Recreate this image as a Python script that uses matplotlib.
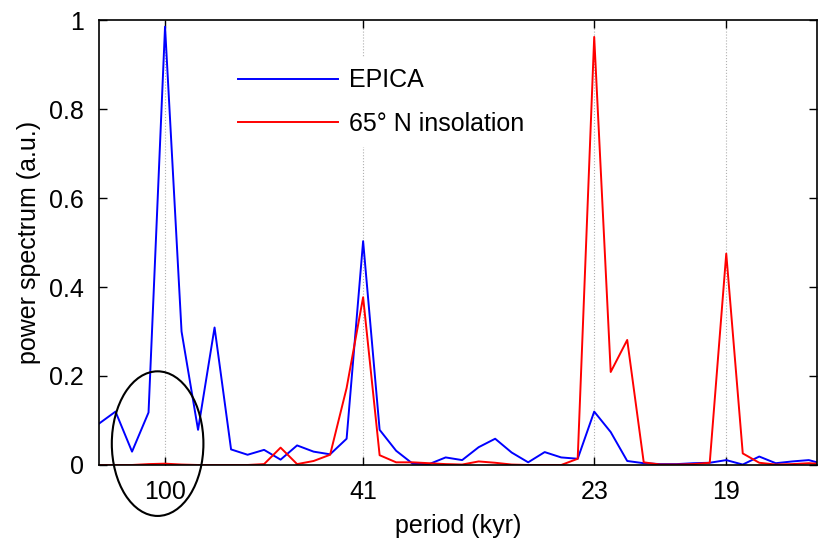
import numpy as np
import matplotlib
matplotlib.use('Agg')
import matplotlib.pyplot as plt
from matplotlib.patches import Ellipse

plt.rcParams['font.family'] = ['Liberation Sans', 'DejaVu Sans']

# normalised power spectra on a common frequency grid (bin index)
freq_bin = np.arange(45)
epica = [0.093, 0.12, 0.03, 0.118, 0.985, 0.30, 0.079, 0.309, 0.035, 0.023,
         0.034, 0.012, 0.044, 0.030, 0.024, 0.059, 0.503, 0.079, 0.032, 0.003,
         0.002, 0.017, 0.011, 0.040, 0.059, 0.028, 0.006, 0.029, 0.017, 0.014,
         0.12, 0.074, 0.009, 0.004, 0.002, 0.002, 0.004, 0.005, 0.011, 0.001,
         0.019, 0.004, 0.008, 0.011, 0.001]
insolation = [0.0, 0.0, 0.0, 0.002, 0.003, 0.001, 0.0, 0.0, 0.0, 0.0,
              0.002, 0.039, 0.002, 0.009, 0.023, 0.173, 0.377, 0.022, 0.006, 0.006,
              0.004, 0.002, 0.001, 0.008, 0.005, 0.001, 0.0, 0.0, 0.0, 0.014,
              0.962, 0.209, 0.281, 0.006, 0.001, 0.001, 0.002, 0.005, 0.475, 0.026,
              0.005, 0.001, 0.002, 0.004, 0.002]

# orbital periods marked on the frequency axis
period_bins = [4, 16, 30, 38]
period_labels = ['100', '41', '23', '19']

fig = plt.figure(figsize=(8.19, 5.41), dpi=100)
ax = fig.add_axes([0.1209, 0.1405, 0.8767, 0.8225])

for b in period_bins:
    ax.axvline(b, color='#b0b0b0', lw=0.8, ls=':', zorder=0)

ax.plot(freq_bin, epica, color='b', lw=1.4, label='EPICA')
ax.plot(freq_bin, insolation, color='r', lw=1.4, label='65° N insolation')

ax.set_xlim(0, 43.5)
ax.set_ylim(0, 1)
ax.set_xticks(period_bins)
ax.set_xticklabels(period_labels)
ax.set_yticks([0, 0.2, 0.4, 0.6, 0.8, 1])
ax.set_yticklabels(['0', '0.2', '0.4', '0.6', '0.8', '1'])
ax.tick_params(direction='in', length=6, width=1, top=True, right=True,
               labelsize=18, pad=11)
for s in ax.spines.values():
    s.set_linewidth(1.2)

ax.set_xlabel('period (kyr)', fontsize=18, labelpad=7)
ax.set_ylabel('power spectrum (a.u.)', fontsize=18, labelpad=6)

leg = ax.legend(loc='upper left', bbox_to_anchor=(0.162, 0.942), fontsize=18,
                handlelength=4.0, handletextpad=0.45, labelspacing=0.78,
                frameon=True, fancybox=False, borderpad=0.4)
leg.get_frame().set_edgecolor('white')
leg.get_frame().set_facecolor('white')
leg.get_frame().set_alpha(1)

# circle around the 100 kyr band
ax.add_patch(Ellipse((3.55, 0.048), 5.55, 0.325, fill=False, ec='black',
                     lw=1.5, clip_on=False, zorder=5))

fig.savefig('out.png', dpi=100)
